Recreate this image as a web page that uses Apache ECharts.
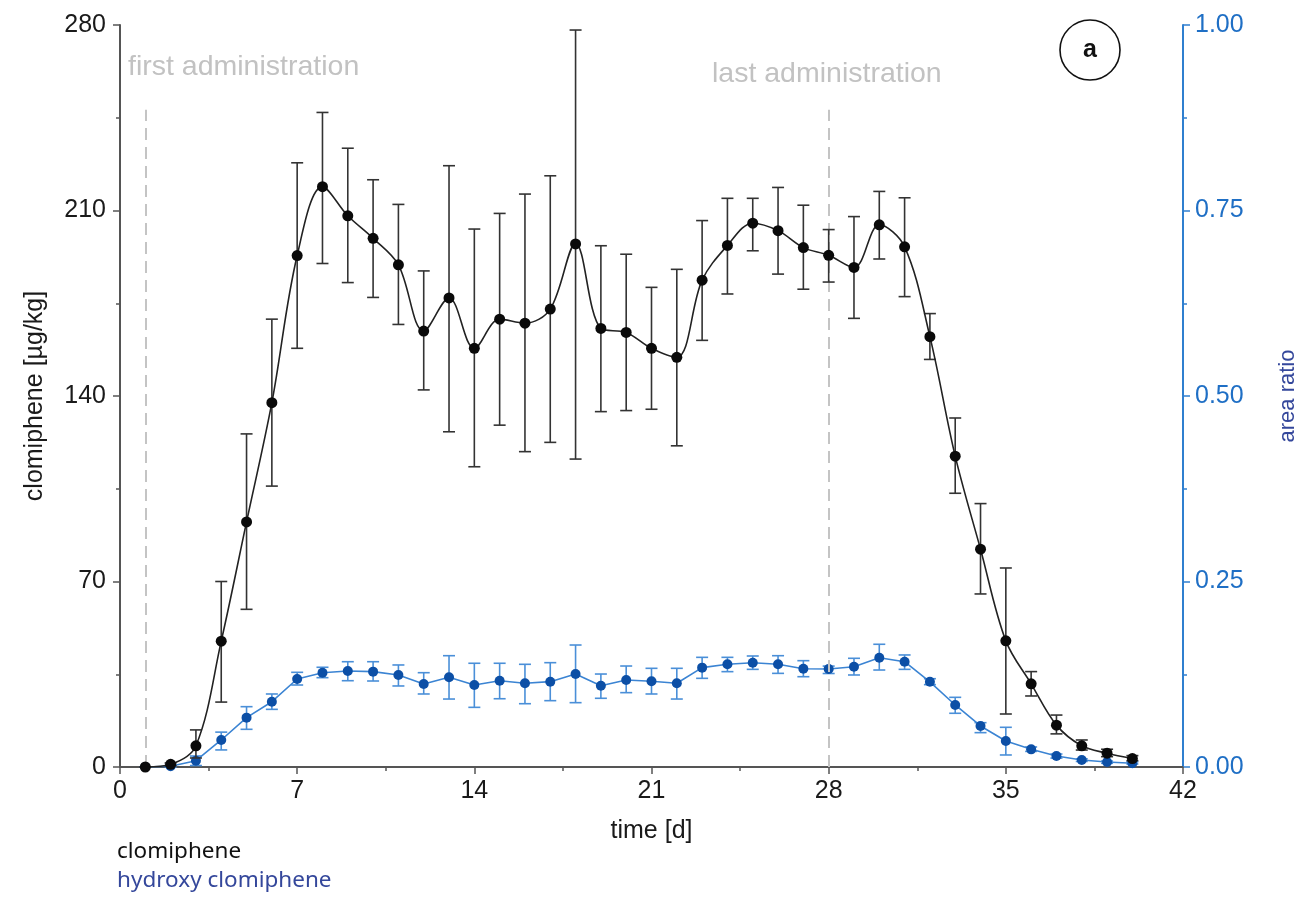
<!DOCTYPE html>
<html>
<head>
<meta charset="utf-8">
<script src="https://cdn.jsdelivr.net/npm/echarts@6/dist/echarts.min.js"></script>
<style>
  html, body { margin: 0; padding: 0; background: #fff; }
  #chart { width: 1300px; height: 899px; }
</style>
</head>
<body>
<div id="chart"></div>
<script>
// time [d]
var days = [1, 2, 3, 4, 5, 6, 7, 8, 9, 10, 11, 12, 13, 14, 15, 16, 17, 18, 19, 20,
  21, 22, 23, 24, 25, 26, 27, 28, 29, 30, 31, 32, 33, 34, 35, 36, 37, 38, 39, 40];

// clomiphene [µg/kg] : mean, lower and upper error bar ends
var clomMean = [0, 1, 8, 47.5, 92.5, 137.5, 193, 219, 208, 199.5, 189.5, 164.5, 177, 158, 169, 167.5, 172.8, 197.4, 165.5, 164,
  158, 154.6, 183.7, 196.8, 205.2, 202.4, 196, 193.1, 188.5, 204.6, 196.3, 162.4, 117.3, 82.2, 47.6, 31.4, 15.8, 8, 5.2, 3.2];
var clomLow = [0, 0.5, 3.4, 24.5, 59.5, 106, 158, 190, 182.8, 177.2, 167, 142.3, 126.5, 113.3, 129, 119, 122.5, 116.2, 134.1, 134.5,
  135, 121.2, 161, 178.5, 194.8, 186, 180.3, 183, 169.3, 191.7, 177.5, 153.8, 103.3, 65.3, 20, 26.8, 12.5, 6.4, 3.9, 2.4];
var clomHigh = [0, 1.5, 14, 70, 125.7, 169, 228, 247, 233.5, 221.6, 212.3, 187.2, 226.9, 203, 208.9, 216.2, 223.1, 278.1, 196.7, 193.5,
  181, 187.8, 206.2, 214.6, 214.6, 218.7, 212, 202.8, 207.7, 217.2, 214.8, 171.1, 131.7, 99.4, 75.1, 36, 19.6, 10.2, 6.7, 4.3];

// hydroxy clomiphene (area ratio) : mean, lower and upper error bar ends
var hydMean = [0, 0.001, 0.0085, 0.0364, 0.0665, 0.088, 0.1186, 0.1271, 0.1294, 0.1285, 0.124, 0.1119, 0.1209, 0.1105, 0.1163, 0.1128, 0.115, 0.1253, 0.1096, 0.1173,
  0.1155, 0.1128, 0.1339, 0.1384, 0.1406, 0.1384, 0.1325, 0.132, 0.1352, 0.1473, 0.1419, 0.1148, 0.0836, 0.0553, 0.035, 0.0238, 0.0148, 0.0094, 0.0067, 0.005];
var hydLow = [0, 0, 0.002, 0.023, 0.0508, 0.0777, 0.1105, 0.1204, 0.1163, 0.1159, 0.1092, 0.0984, 0.0916, 0.0804, 0.092, 0.0853, 0.0894, 0.0867, 0.0926, 0.1002,
  0.0984, 0.0916, 0.1195, 0.1285, 0.1316, 0.1262, 0.1217, 0.126, 0.124, 0.1307, 0.1316, 0.111, 0.0724, 0.0463, 0.0162, 0.021, 0.012, 0.0075, 0.005, 0.004];
var hydHigh = [0, 0.002, 0.0148, 0.047, 0.0813, 0.0984, 0.1276, 0.1344, 0.1419, 0.1419, 0.1375, 0.1271, 0.15, 0.1398, 0.1398, 0.1384, 0.1406, 0.1644, 0.1253, 0.1361,
  0.133, 0.133, 0.1478, 0.1478, 0.1496, 0.15, 0.1433, 0.136, 0.1465, 0.1654, 0.151, 0.119, 0.0939, 0.0597, 0.0535, 0.027, 0.0175, 0.011, 0.008, 0.007];

// administration days (dashed markers)
var firstDay = 1;
var lastDay = 28;

var xTicks = { min: 0, max: 42, interval: 7 };
var yLeftTicks = { min: 0, max: 280, interval: 70 };
var yRightTicks = { min: 0, max: 1, interval: 0.25 };

var FONT = "Liberation Sans";
var BLUE_AXIS = "#2f7fcf";

function pairs(xs, ys) {
  return xs.map(function (x, i) { return [x, ys[i]]; });
}
function errData(xs, lo, hi) {
  return xs.map(function (x, i) { return [x, lo[i], hi[i]]; });
}
// vertical error bar with caps
function errRender(color) {
  return function (params, api) {
    var x = api.value(0);
    var pLo = api.coord([x, api.value(1)]);
    var pHi = api.coord([x, api.value(2)]);
    var w = 6;
    var st = { stroke: color, lineWidth: 1.6 };
    return {
      type: "group",
      children: [
        { type: "line", shape: { x1: pHi[0], y1: pHi[1], x2: pLo[0], y2: pLo[1] }, style: st },
        { type: "line", shape: { x1: pHi[0] - w, y1: pHi[1], x2: pHi[0] + w, y2: pHi[1] }, style: st },
        { type: "line", shape: { x1: pLo[0] - w, y1: pLo[1], x2: pLo[0] + w, y2: pLo[1] }, style: st },
      ],
    };
  };
}

var myChart = echarts.init(document.getElementById("chart"));

var option = {
  backgroundColor: "#fff",
  animation: false,
  grid: { left: 120, right: 117, top: 25, bottom: 132, outerBoundsMode: "none", containLabel: false },
  xAxis: {
    type: "value",
    min: xTicks.min,
    max: xTicks.max,
    interval: xTicks.interval,
    name: "time [d]",
    nameLocation: "middle",
    nameGap: 52,
    nameTextStyle: { fontFamily: FONT, fontSize: 25, color: "#1a1a1a" },
    axisLine: { show: true, onZero: false, lineStyle: { color: "#555", width: 2 } },
    axisTick: { show: true, inside: false, length: 7, lineStyle: { color: "#555", width: 1.5 } },
    minorTick: { show: true, splitNumber: 2, length: 4, lineStyle: { color: "#555", width: 1.5 } },
    axisLabel: { fontFamily: FONT, fontSize: 25, color: "#1a1a1a", margin: 12 },
    splitLine: { show: false },
  },
  yAxis: [
    {
      type: "value",
      position: "left",
      min: yLeftTicks.min,
      max: yLeftTicks.max,
      interval: yLeftTicks.interval,
      name: "clomiphene [µg/kg]",
      nameLocation: "middle",
      nameGap: 72,
      nameRotate: 90,
      nameTextStyle: { fontFamily: FONT, fontSize: 25, color: "#1a1a1a" },
      axisLine: { show: true, lineStyle: { color: "#555", width: 2 } },
      axisTick: { show: true, inside: false, length: 7, lineStyle: { color: "#555", width: 1.5 } },
      minorTick: { show: true, splitNumber: 2, length: 4, lineStyle: { color: "#555", width: 1.5 } },
      axisLabel: { fontFamily: FONT, fontSize: 25, color: "#1a1a1a", margin: 14 },
      splitLine: { show: false },
    },
    {
      type: "value",
      position: "right",
      min: yRightTicks.min,
      max: yRightTicks.max,
      interval: yRightTicks.interval,
      name: "area ratio",
      nameLocation: "middle",
      nameGap: 94,
      nameRotate: 90,
      nameTextStyle: { fontFamily: FONT, fontSize: 22, color: "#34479b" },
      axisLine: { show: true, lineStyle: { color: BLUE_AXIS, width: 2 } },
      axisTick: { show: true, inside: false, length: 7, lineStyle: { color: BLUE_AXIS, width: 1.5 } },
      minorTick: { show: true, splitNumber: 2, length: 4, lineStyle: { color: BLUE_AXIS, width: 1.5 } },
      axisLabel: {
        fontFamily: FONT,
        fontSize: 25,
        color: "#1f6fc5",
        margin: 12,
        formatter: function (v) { return v.toFixed(2); },
      },
      splitLine: { show: false },
    },
  ],
  series: [
    {
      name: "administration",
      type: "line",
      data: [],
      silent: true,
      markLine: {
        symbol: "none",
        silent: true,
        label: { show: false },
        lineStyle: { color: "#c4c4c4", type: [12, 7], width: 2 },
        data: [
          [{ coord: [firstDay, 0] }, { coord: [firstDay, 248] }],
          [{ coord: [lastDay, 0] }, { coord: [lastDay, 248] }],
        ],
      },
    },
    {
      name: "hydroxy clomiphene error",
      type: "custom",
      yAxisIndex: 1,
      renderItem: errRender("#4a8fd8"),
      encode: { x: 0, y: [1, 2] },
      data: errData(days, hydLow, hydHigh),
      z: 3,
    },
    {
      name: "hydroxy clomiphene",
      type: "line",
      yAxisIndex: 1,
      data: pairs(days, hydMean),
      symbol: "circle",
      symbolSize: 10,
      lineStyle: { color: "#3b84d3", width: 1.6 },
      itemStyle: { color: "#0c4fa6" },
      z: 4,
    },
    {
      name: "clomiphene error",
      type: "custom",
      renderItem: errRender("#333"),
      encode: { x: 0, y: [1, 2] },
      data: errData(days, clomLow, clomHigh),
      z: 5,
    },
    {
      name: "clomiphene",
      type: "line",
      data: pairs(days, clomMean),
      smooth: 0.35,
      symbol: "circle",
      symbolSize: 11,
      lineStyle: { color: "#222", width: 1.6 },
      itemStyle: { color: "#0a0a0a" },
      z: 6,
    },
  ],
  graphic: [
    {
      type: "text",
      left: 128,
      top: 53,
      style: { text: "first administration", fontFamily: FONT, fontSize: 28.5, fill: "#c2c2c2" },
    },
    {
      type: "text",
      left: 712,
      top: 60,
      style: { text: "last administration", fontFamily: FONT, fontSize: 28.5, fill: "#c2c2c2" },
    },
    {
      type: "circle",
      shape: { cx: 1090, cy: 50, r: 30 },
      style: { fill: "none", stroke: "#111", lineWidth: 1.6 },
    },
    {
      type: "text",
      x: 1090,
      y: 50,
      style: {
        text: "a",
        fontFamily: FONT,
        fontWeight: "bold",
        fontSize: 25,
        fill: "#111",
        align: "center",
        verticalAlign: "middle",
      },
    },
    {
      type: "text",
      left: 117,
      top: 840,
      style: { text: "clomiphene", fontFamily: "Noto Sans", fontSize: 22.5, fill: "#111" },
    },
    {
      type: "text",
      left: 117,
      top: 869,
      style: { text: "hydroxy clomiphene", fontFamily: "Noto Sans", fontSize: 22.5, fill: "#34479b" },
    },
  ],
};

myChart.setOption(option);
</script>
</body>
</html>
